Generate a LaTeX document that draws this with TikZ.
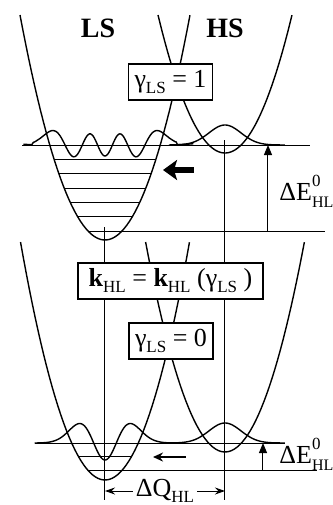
\documentclass[tikz,border=0pt]{standalone}
\usepackage{fontspec}
\setmainfont{Liberation Serif}
\usetikzlibrary{arrows.meta, positioning}

\newcommand{\lo}[1]{\raisebox{-0.5ex}{\fontsize{8.5}{8.5}\selectfont #1}}
\newcommand{\supsub}[2]{\makebox[0pt][l]{\raisebox{1.1ex}{\fontsize{8.5}{8.5}\selectfont #1}}\raisebox{-0.65ex}{\fontsize{8}{8}\selectfont #2}}

\begin{document}
\begin{tikzpicture}[
        x=0.5pt, y=-0.5pt,
        font=\fontsize{13}{15}\selectfont,
        declare function={
            psisix(\u)=exp(-\u*\u/2)*(\u*\u*(\u*\u*(8*\u*\u-60)/15+6)-1);
            psitwo(\u)=exp(-\u*\u/2)*(2*\u*\u-1);
            psinil(\u)=exp(-\u*\u/2);
        },
        well/.style={line width=0.7pt},
        level/.style={line width=0.5pt},
        wave/.style={line width=0.7pt, samples=140, smooth},
        gate/.style={
            draw,
            fill=white,
            line width=0.6pt,
            inner sep=2pt,
            minimum height=18pt,
            minimum width=42pt
        },
        tag/.style={font=\fontsize{14}{16}\selectfont\bfseries},
        gauge/.style={-{Triangle[length=5pt, width=4pt]}, line width=0.5pt},
        span/.style={{Stealth[length=5pt, width=3.5pt]}-{Stealth[length=5pt, width=3.5pt]}, line width=0.5pt},
        push/.style={-{Stealth[length=7pt, width=10pt, inset=1.5pt]}, line width=3pt},
        nudge/.style={-{Stealth[length=5pt, width=4.5pt]}, line width=1pt}
    ]
    \useasboundingbox (0,0) rectangle (333,505);

    % Upper panel: potential wells
    \draw[well] plot[domain=-1:1, samples=60] ({105+85*\x}, {240-225*\x*\x});
    \draw[well] plot[domain=-1:1, samples=60] ({225+67*\x}, {153-138*\x*\x});

    % Upper panel: LS vibrational levels
    \foreach \n in {1,...,5} {
        \pgfmathsetmacro{\yl}{231-\n*86/6}
        \pgfmathsetmacro{\dx}{85*sqrt((240-\yl)/225)}
        \draw[level] ({105-\dx}, \yl) -- ({105+\dx}, \yl);
    }
    \draw[level] (88,231) -- (325,231);
    \draw[level] (22,145) -- (310,145);

    % Upper panel: wave functions
    \draw[wave] plot[domain=-4.8:5.2] ({105+17*\x}, {145-11*psisix(\x)});
    \draw[wave] plot[domain=-3.5:3.75] ({225+16*\x}, {145-20*psinil(\x)});

    % Lower panel: potential wells
    \draw[well] plot[domain=-1:1, samples=60] ({105+84.5*\x}, {480-238*\x*\x});
    \draw[well] plot[domain=-1:1, samples=60] ({225+79.4*\x}, {452-210*\x*\x});

    % Lower panel: LS vibrational levels
    \draw[level] ({105-26.5}, 456.5) -- ({105+26.5}, 456.5);
    \draw[level] (88,470) -- (317,470);
    \draw[level] (35,443) -- (285,443);

    % Lower panel: wave functions
    \draw[wave] plot[domain=-4.4:4.4] ({105+16*\x}, {443-17*psitwo(\x)});
    \draw[wave] plot[domain=-3.8:3.75] ({225+16*\x}, {443-20*psinil(\x)});

    % Equilibrium positions
    \coordinate (lsTop)  at (105,227);
    \coordinate (lsFoot) at (105,500);
    \coordinate (hsTop)  at (225,140);
    \coordinate (hsFoot) at (225,500);
    \draw[level] (lsTop) -- (lsFoot);
    \draw[level] (hsTop) -- (hsFoot);

    % Labels and boxes
    \node[tag, anchor=base] (ls) at (98,37)  {LS};
    \node[tag, anchor=base] (hs) at (225,37) {HS};
    \node[gate] (gOne)  at (170.5,82)  {γ\lo{LS} = 1};
    \node[gate, minimum width=92.5pt] (kBox) at (170.5,281)
        {\textbf{k}\lo{HL} = \textbf{k}\lo{HL} (γ\lo{LS} )};
    \node[gate] (gZero) at (171,341) {γ\lo{LS} = 0};

    % Energy gaps
    \coordinate (eTopLow)  at (268,231);
    \coordinate (eTopHigh) at (268,145);
    \coordinate (eBotLow)  at (263,470);
    \coordinate (eBotHigh) at (263,443);
    \draw[gauge] (eTopLow) -- (eTopHigh);
    \draw[gauge] (eBotLow) -- (eBotHigh);
    \node[anchor=base west, inner sep=0pt] (eTop) at (279,200) {ΔE\supsub{0}{HL}};
    \node[anchor=base west, inner sep=0pt] (eBot) at (279,463) {ΔE\supsub{0}{HL}};

    % Relaxation arrows
    \coordinate (pushFrom) at (194,170);
    \coordinate (pushTo)   at (163,170);
    \coordinate (nudgeFrom) at (186,457);
    \coordinate (nudgeTo)   at (153,457);
    \draw[push]  (pushFrom) -- (pushTo);
    \draw[nudge] (nudgeFrom) -- (nudgeTo);

    % Displacement
    \coordinate (qL) at (105,491);
    \coordinate (qR) at (225,491);
    \draw[span] (qL) -- node[fill=white, inner xsep=1.5pt, inner ysep=0pt] (dQ) {ΔQ\lo{HL}} (qR);
\end{tikzpicture}
\end{document}
